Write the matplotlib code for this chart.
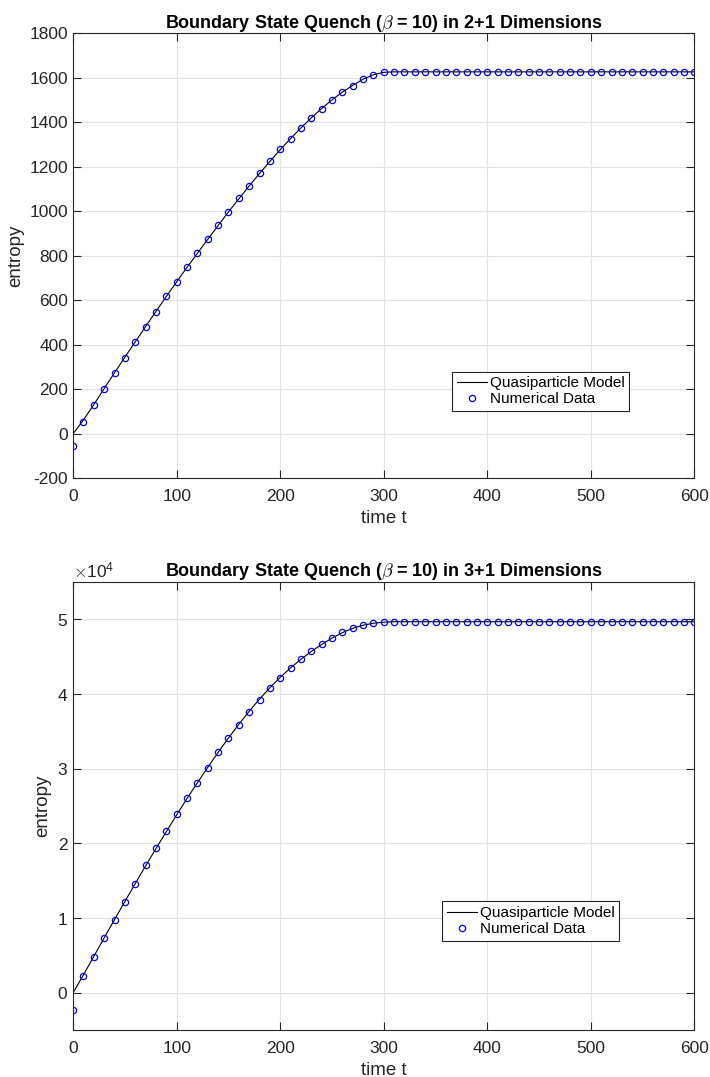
import matplotlib
matplotlib.use("Agg")
import matplotlib.pyplot as plt
from matplotlib.ticker import ScalarFormatter
import numpy as np

plt.rcParams["font.family"] = ["Liberation Sans", "DejaVu Sans"]
plt.rcParams["mathtext.fontset"] = "cm"
plt.rcParams["axes.unicode_minus"] = False

# time grid, t = 0, 10, ..., 600
t = list(range(0, 610, 10))

# 2+1 dimensions
data_2d = [-57, 51, 127, 201, 274, 342, 411, 480, 549, 618,
           681, 750, 814, 874, 939, 998, 1058, 1114, 1171, 1226,
           1279, 1325, 1376, 1418, 1462, 1501, 1535, 1564, 1595, 1613,
           1625] + [1627] * 30
model_2d = [0, 62, 131, 203, 274, 344, 413, 482, 550, 617,
            683, 748, 811, 874, 936, 997, 1056, 1114, 1170, 1224,
            1277, 1327, 1375, 1420, 1462, 1501, 1536, 1566, 1594, 1614,
            1625] + [1627] * 30

# 3+1 dimensions (units of 1e4)
data_3d = [-0.228, 0.219, 0.474, 0.729, 0.970, 1.216, 1.458, 1.704, 1.932, 2.160,
           2.388, 2.607, 2.813, 3.014, 3.220, 3.412, 3.591, 3.757, 3.922, 4.079,
           4.217, 4.347, 4.472, 4.575, 4.673, 4.754, 4.830, 4.884, 4.919, 4.946,
           4.960] + [4.968] * 30
model_3d = [0.0, 0.240, 0.487, 0.735, 0.980, 1.222, 1.462, 1.698, 1.930, 2.158,
            2.382, 2.600, 2.812, 3.018, 3.218, 3.410, 3.594, 3.768, 3.932, 4.084,
            4.223, 4.350, 4.465, 4.570, 4.664, 4.748, 4.822, 4.880, 4.921, 4.948,
            4.962] + [4.968] * 30

titles = [r"Boundary State Quench ($\beta$ = 10) in 2+1 Dimensions",
          r"Boundary State Quench ($\beta$ = 10) in 3+1 Dimensions"]

TXT = "#262626"


def style_axes(ax):
    ax.grid(True, color="#e3e3e3", linewidth=0.8)
    ax.set_axisbelow(True)
    ax.tick_params(direction="in", top=True, right=True, labelsize=12.5,
                   length=5.5, width=0.8, colors=TXT)
    ax.tick_params(axis="x", pad=8)
    for s in ax.spines.values():
        s.set_color(TXT)
        s.set_linewidth(0.8)
    ax.set_xlim(0, 600)
    ax.set_xticks(range(0, 700, 100))
    ax.set_xlabel("time t", fontsize=13.5, color=TXT, labelpad=4)
    ax.set_ylabel("entropy", fontsize=13.5, color=TXT, labelpad=4)


def add_legend(ax, anchor):
    leg = ax.legend(loc="lower left", bbox_to_anchor=anchor, fontsize=11,
                    frameon=True, fancybox=False, edgecolor=TXT,
                    borderpad=0.3, labelspacing=0.15, handlelength=2.0,
                    handletextpad=0.15, borderaxespad=0, framealpha=1)
    leg.get_frame().set_linewidth(0.8)
    for txt in leg.get_texts():
        txt.set_color("black")


fig = plt.figure(figsize=(7.1, 10.77), dpi=100)
ax1 = fig.add_axes([0.103, 0.556, 0.875, 0.413])
ax2 = fig.add_axes([0.103, 0.0436, 0.875, 0.416])

# top panel
ax1.plot(t, model_2d, color="black", linewidth=0.8, label="Quasiparticle Model")
ax1.plot(t, data_2d, "o", mfc="none", mec="blue", ms=4.5, mew=0.9, label="Numerical Data")
style_axes(ax1)
ax1.set_ylim(-200, 1800)
ax1.set_yticks(range(-200, 2000, 200))
ax1.set_title(titles[0], fontsize=13, fontweight="bold", pad=4)
add_legend(ax1, (0.61, 0.151))

# bottom panel
ax2.plot(t, np.array(model_3d) * 1e4, color="black", linewidth=0.8, label="Quasiparticle Model")
ax2.plot(t, np.array(data_3d) * 1e4, "o", mfc="none", mec="blue", ms=4.5, mew=0.9,
         label="Numerical Data")
style_axes(ax2)
ax2.set_ylim(-0.5e4, 5.5e4)
ax2.set_yticks(np.arange(0, 6e4, 1e4))
fmt = ScalarFormatter(useMathText=True)
fmt.set_powerlimits((0, 0))
ax2.yaxis.set_major_formatter(fmt)
ax2.yaxis.get_offset_text().set_fontsize(12.5)
ax2.yaxis.get_offset_text().set_color(TXT)
ax2.set_title(titles[1], fontsize=13, fontweight="bold", pad=4)
add_legend(ax2, (0.594, 0.199))

fig.savefig("out.png", dpi=100, facecolor="white")
